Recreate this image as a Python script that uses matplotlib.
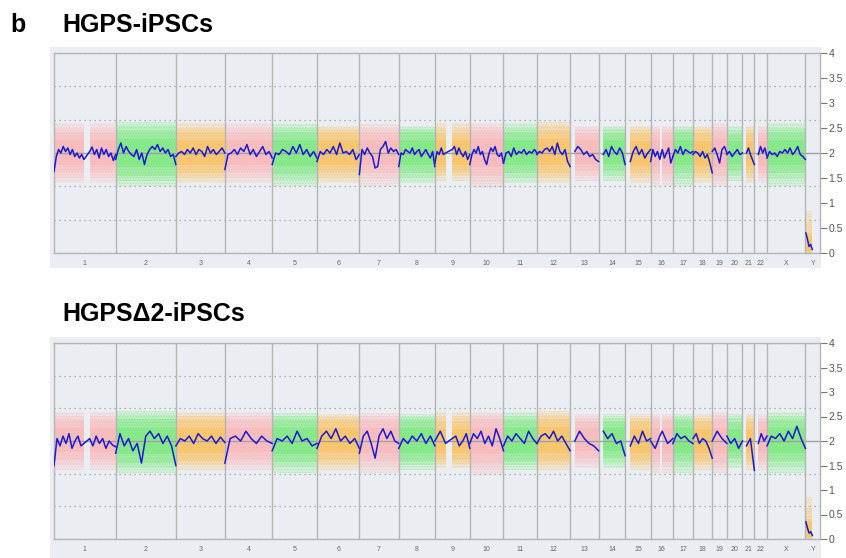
import matplotlib
matplotlib.use("Agg")
import matplotlib.pyplot as plt
import numpy as np
from matplotlib.patches import Rectangle

plt.rcParams["font.family"] = ["Liberation Sans", "DejaVu Sans"]
plt.rcParams["hatch.linewidth"] = 0.5

# chromosomes and lengths (Mb)
chrom_names = ["1", "2", "3", "4", "5", "6", "7", "8", "9", "10", "11", "12",
               "13", "14", "15", "16", "17", "18", "19", "20", "21", "22", "X", "Y"]
chrom_len = [249, 243, 198, 191, 181, 171, 159, 146, 141, 136, 135, 134,
             115, 107, 103, 90, 81, 78, 59, 63, 48, 51, 155, 59]

# covered regions (Mb, within chromosome) - gaps at centromeres / p arms
segments = [[(0, 121), (144, 249)], [(0, 243)], [(0, 198)], [(0, 191)], [(0, 181)],
            [(0, 171)], [(0, 159)], [(0, 146)], [(0, 43), (70, 141)], [(0, 136)],
            [(0, 135)], [(0, 134)], [(19, 115)], [(19, 107)], [(21, 103)],
            [(0, 37), (47, 90)], [(0, 81)], [(0, 78)], [(0, 59)], [(0, 63)],
            [(16, 48)], [(16, 51)], [(0, 155)], [(2, 28)]]

# probe cloud extent (copy number)
outer_lo = [1.4, 1.35, 1.4, 1.4, 1.35, 1.4, 1.35, 1.4, 1.45, 1.3, 1.4, 1.4,
            1.45, 1.45, 1.4, 1.35, 1.35, 1.4, 1.35, 1.45, 1.4, 1.4, 1.35, 0.0]
dense_lo = [1.62, 1.55, 1.6, 1.62, 1.58, 1.62, 1.6, 1.6, 1.62, 1.55, 1.6, 1.6,
            1.65, 1.65, 1.6, 1.58, 1.6, 1.6, 1.55, 1.65, 1.6, 1.6, 1.6, 0.0]
dense_hi = [2.42, 2.45, 2.42, 2.42, 2.42, 2.42, 2.42, 2.42, 2.4, 2.45, 2.42, 2.45,
            2.4, 2.4, 2.4, 2.42, 2.42, 2.4, 2.45, 2.38, 2.4, 2.4, 2.42, 0.4]
outer_hi = [2.6, 2.62, 2.6, 2.6, 2.58, 2.55, 2.58, 2.55, 2.6, 2.6, 2.6, 2.62,
            2.55, 2.55, 2.55, 2.55, 2.55, 2.55, 2.6, 2.55, 2.55, 2.55, 2.6, 0.85]

# smoothed copy number, HGPS-iPSCs
hgps_cn = [
    [[1.63, 1.93, 2.07, 2.0, 2.13, 2.03, 2.1, 1.97, 2.07, 1.93, 2.0, 1.9, 1.97, 1.87],
     [2.03, 2.12, 1.97, 2.07, 1.9, 2.1, 1.97, 2.07, 1.93, 2.0, 1.85, 1.97]],
    [[1.87, 2.07, 2.2, 2.0, 2.13, 2.03, 1.97, 1.93, 2.07, 1.87, 2.0, 1.77, 1.97, 2.07,
      2.13, 2.07, 2.17, 2.03, 2.1, 2.0, 2.07, 1.93, 1.97, 1.77]],
    [[1.93, 2.0, 2.03, 1.97, 2.07, 2.0, 2.1, 1.97, 2.07, 2.03, 1.93, 2.13, 2.0, 2.07,
      1.97, 2.03, 2.1, 2.0]],
    [[1.67, 1.97, 2.0, 2.07, 1.97, 2.1, 2.03, 2.17, 1.97, 2.07, 1.93, 2.03, 2.13, 1.97,
      2.03, 1.9]],
    [[1.77, 2.0, 1.97, 2.07, 2.03, 1.97, 2.13, 2.0, 2.17, 1.97, 2.07, 1.93, 2.03, 1.9]],
    [[1.83, 2.03, 1.97, 2.07, 2.0, 2.13, 1.97, 2.2, 2.0, 2.03, 1.97, 2.07, 1.87, 1.97]],
    [[1.57, 2.07, 1.97, 2.1, 2.0, 1.93, 1.7, 1.73, 2.07, 2.13, 2.23, 2.0, 2.1, 2.03,
      2.07, 1.97]],
    [[1.73, 2.0, 1.97, 2.07, 2.03, 2.0, 2.1, 1.97, 2.03, 2.07, 1.93, 2.0, 2.07, 1.97,
      1.9, 2.03, 1.73]],
    [[1.8, 2.03, 1.97, 2.1, 1.97, 2.0], [2.07, 2.13, 1.97, 2.1, 2.0, 1.93, 2.03, 1.87, 1.97]],
    [[1.77, 1.97, 2.07, 2.0, 2.13, 1.97, 2.03, 1.87, 1.77, 1.97, 2.1, 2.03, 2.13, 1.97,
      1.93, 2.0, 1.8]],
    [[1.8, 2.0, 2.03, 1.93, 2.1, 1.97, 2.03, 2.0, 2.07, 1.97, 2.03, 2.0, 2.07, 2.0]],
    [[1.97, 2.03, 2.0, 2.07, 2.1, 2.03, 2.13, 1.97, 2.2, 2.03, 1.97, 2.07, 1.83, 1.73]],
    [[2.03, 2.13, 2.07, 1.97, 2.03, 1.93, 1.97, 1.87, 1.83]],
    [[1.97, 2.07, 1.93, 2.13, 2.03, 1.97, 2.1, 2.0, 1.77]],
    [[1.83, 2.03, 2.13, 1.97, 2.07, 1.9, 2.0, 2.07]],
    [[1.83, 2.07, 1.93, 2.03, 1.87], [2.07, 1.9, 2.0, 2.1, 1.8, 1.93]],
    [[1.93, 2.07, 2.0, 2.13, 1.97, 2.07, 2.03, 2.0, 2.03]],
    [[1.97, 2.03, 2.0, 1.93, 2.03, 1.9, 1.97, 1.8, 1.6]],
    [[2.03, 2.1, 1.97, 1.8, 2.07, 2.13, 2.0]],
    [[1.97, 2.03, 1.93, 2.0, 2.07, 1.97, 2.0]],
    [[2.0, 2.1, 1.97, 1.87, 1.77]],
    [[1.97, 2.13, 2.0, 2.1, 1.93]],
    [[1.9, 2.03, 1.97, 2.0, 1.93, 2.03, 2.0, 2.07, 2.0, 2.1, 1.97, 2.03, 2.13, 1.97,
      1.93, 1.87]],
    [[0.4, 0.27, 0.13, 0.17, 0.07]],
]

# smoothed copy number, HGPSΔ2-iPSCs
hgps_d2_cn = [
    [[1.5, 2.05, 1.9, 2.1, 1.95, 2.15, 1.85, 2.0, 2.1, 1.9, 1.95],
     [2.05, 1.9, 2.1, 1.95, 2.05, 1.85, 2.0, 1.92, 1.88]],
    [[1.75, 2.15, 1.9, 2.05, 1.8, 1.95, 1.55, 2.1, 2.2, 2.05, 2.15, 1.95, 2.1, 1.9, 1.5]],
    [[1.9, 2.05, 2.0, 2.1, 1.95, 2.15, 2.05, 2.0, 2.1, 1.95, 2.08, 1.97]],
    [[1.55, 2.05, 2.1, 2.0, 2.2, 2.05, 1.95, 2.1, 2.0, 1.95]],
    [[1.8, 2.05, 2.0, 2.1, 1.95, 2.2, 2.0, 2.05, 1.9, 1.95]],
    [[1.85, 2.1, 2.2, 2.05, 2.25, 2.0, 2.1, 1.95, 2.05, 1.85]],
    [[1.75, 2.1, 2.2, 1.95, 1.65, 2.1, 2.25, 2.05, 2.2, 2.0, 1.95]],
    [[1.85, 2.05, 1.95, 2.1, 2.0, 2.15, 1.95, 2.1, 1.9]],
    [[2.0, 2.2, 1.95], [2.05, 2.1, 1.9, 2.0, 2.15, 1.85]],
    [[1.95, 2.15, 2.05, 2.2, 1.95, 2.1, 1.9, 2.25, 2.05, 1.8]],
    [[1.9, 2.1, 2.0, 2.15, 2.05, 1.95, 2.2, 2.05, 1.95]],
    [[1.95, 2.1, 2.15, 2.05, 2.2, 2.0, 2.1, 1.95, 1.8]],
    [[2.0, 2.2, 2.05, 1.95, 1.9, 1.8]],
    [[2.2, 2.05, 2.15, 1.95, 2.0, 1.7]],
    [[1.9, 2.1, 1.95, 2.2, 2.0, 2.05]],
    [[2.0, 1.85, 2.1], [2.2, 1.95, 2.05]],
    [[1.95, 2.15, 2.05, 2.1, 2.0, 1.95]],
    [[2.05, 2.15, 1.95, 2.05, 2.0, 1.85, 1.65]],
    [[2.0, 2.2, 2.05, 1.95]],
    [[2.1, 1.95, 2.05, 1.85, 2.0]],
    [[1.9, 2.05, 1.4]],
    [[1.95, 2.15, 2.0, 2.1]],
    [[1.9, 2.1, 2.05, 2.15, 2.0, 2.2, 2.05, 2.3, 2.05, 1.85]],
    [[0.35, 0.22, 0.12, 0.15, 0.07]],
]

panel_titles = ["HGPS-iPSCs", "HGPS\u03942-iPSCs"]
ytick_vals = [0, 0.5, 1, 1.5, 2, 2.5, 3, 3.5, 4]
ytick_labels = ["0", "0.5", "1", "1.5", "2", "2.5", "3", "3.5", "4"]

cloud_colors = ["#ffa8a8", "#5ce85c", "#ffb638"]
bg_color = "#eaeef3"
frame_color = "#b4b4b4"


def draw_panel(fig, rect, bg_rect, cn_values):
    fig.add_artist(Rectangle(bg_rect[:2], bg_rect[2], bg_rect[3],
                             transform=fig.transFigure, facecolor=bg_color,
                             edgecolor="none", zorder=0))
    ax = fig.add_axes(rect)
    ax.set_facecolor(bg_color)
    starts = np.concatenate([[0], np.cumsum(chrom_len)[:-1]])
    total = sum(chrom_len)

    for i in range(len(chrom_names)):
        off = starts[i]
        col = cloud_colors[i % 3]
        mid = (dense_lo[i] + dense_hi[i]) / 2
        # soft edged cloud: stacked translucent bands from the outer edge inward
        bands = [(outer_lo[i], outer_hi[i], 0.15),
                 ((outer_lo[i] + dense_lo[i]) / 2, (outer_hi[i] + dense_hi[i]) / 2, 0.2),
                 (dense_lo[i], dense_hi[i], 0.28),
                 ((dense_lo[i] + mid) / 2 - 0.05, (dense_hi[i] + mid) / 2 + 0.05, 0.32)]
        for (a, b) in segments[i]:
            xs = [off + a, off + b]
            for lo, hi, al in bands:
                ax.fill_between(xs, lo, hi, color=col, alpha=al, lw=0, zorder=1)
            ax.fill_between(xs, outer_lo[i], outer_hi[i], facecolor="none", edgecolor=col,
                            hatch="......", lw=0, alpha=0.4, zorder=1)
        line_x, line_y = [], []
        for (a, b), vals in zip(segments[i], cn_values[i]):
            line_x.extend(np.linspace(off + a, off + b, len(vals)))
            line_y.extend(vals)
        ax.plot(line_x, line_y, color="#1a1ad0", lw=1.1, zorder=4)

    # grid
    for g in np.linspace(0, 4, 7):
        if abs(g - 2) < 1e-6:
            continue
        ax.axhline(g, color="#9a9a9a", lw=0.9, ls=(0, (1, 3)), zorder=2)
    ax.axhline(2, color="#a0a0a0", lw=1.0, zorder=2)
    for b in np.cumsum(chrom_len)[:-1]:
        ax.axvline(b, color=frame_color, lw=1.0, zorder=3)

    ax.set_xlim(0, total)
    ax.set_ylim(0, 4)
    ax.set_xticks(starts + np.array(chrom_len) / 2)
    ax.set_xticklabels(chrom_names)
    ax.tick_params(axis="x", length=0, labelsize=5, labelcolor="#666666", pad=5)
    ax.yaxis.tick_right()
    ax.set_yticks(ytick_vals)
    ax.set_yticklabels(ytick_labels)
    ax.tick_params(axis="y", length=5, width=0.8, color="#777777", labelsize=7.5,
                   labelcolor="#555555", pad=1)
    for s in ax.spines.values():
        s.set_color(frame_color)
        s.set_linewidth(1.0)
    return ax


W, H = 846, 558
fig = plt.figure(figsize=(W / 100, H / 100), dpi=100)

draw_panel(fig, [54 / W, 1 - 253 / H, 766 / W, 200 / H],
           [50 / W, 1 - 268 / H, 771 / W, 221 / H], hgps_cn)
draw_panel(fig, [54 / W, 1 - 539 / H, 766 / W, 196 / H],
           [50 / W, 0, 771 / W, 221 / H], hgps_d2_cn)

fig.text(10 / W, 1 - 25 / H, "b", fontsize=18, fontweight="bold", va="center")
fig.text(62 / W, 1 - 25 / H, panel_titles[0], fontsize=18, fontweight="bold", va="center")
fig.text(62 / W, 1 - 314 / H, panel_titles[1], fontsize=18, fontweight="bold", va="center")

fig.savefig("out.png", dpi=100)
